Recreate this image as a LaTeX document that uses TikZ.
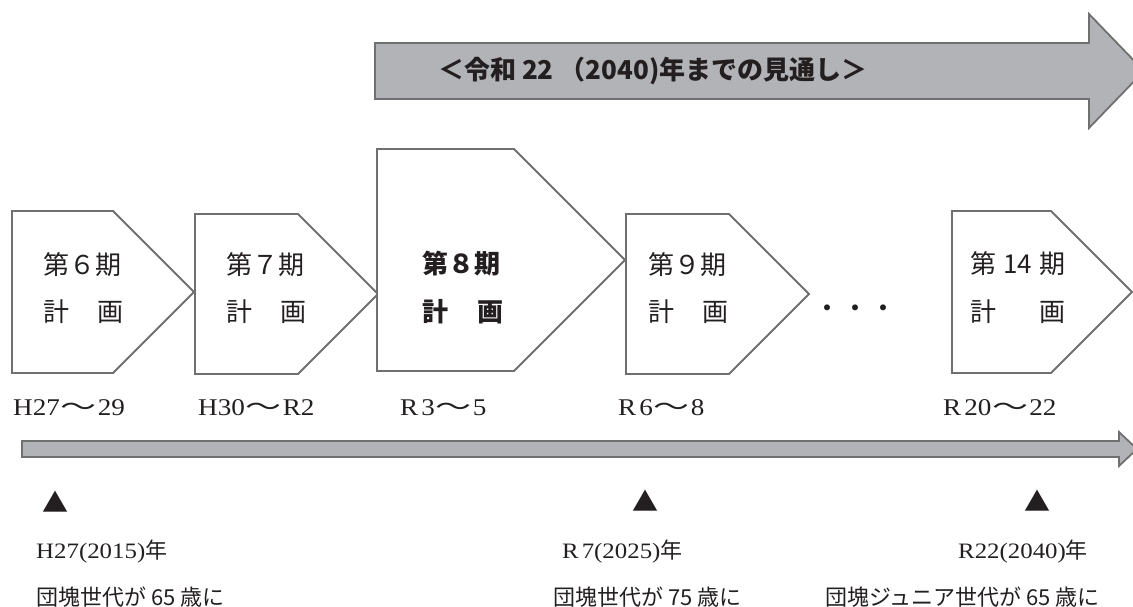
\documentclass[tikz,border=0pt]{standalone}
\usepackage{fontspec}
\usepackage{graphicx}
\setmainfont{Liberation Serif}
\newfontfamily\datefont[FakeStretch=1.13]{Liberation Serif}
\newfontfamily\cjk{Noto Sans CJK JP}
\definecolor{linegray}{RGB}{112,112,112}
\definecolor{arrowgray}{RGB}{178,179,183}
\definecolor{ink}{RGB}{35,31,32}
\newcommand{\plangon}[4]{% left, top, bottom, tip x
  \draw[planbox] (#1,#2) -- ({#4-(#3-#2)/2},#2) -- (#4,{(#2+#3)/2}) -- ({#4-(#3-#2)/2},#3) -- (#1,#3) -- cycle;}
\newcommand{\wv}{{\cjk\hspace{1pt}\scalebox{1.5}[1]{～}\hspace{1pt}}}
\begin{document}
\begin{tikzpicture}[x=1pt,y=-1pt,
  planbox/.style={draw=linegray, line width=1.8pt, fill=white, line join=miter},
  bigarrow/.style={draw=linegray, line width=1.8pt, fill=arrowgray, line join=miter},
  plantext/.style={inner sep=0pt, anchor=west, text=ink, font=\cjk\fontsize{26pt}{30pt}\selectfont},
  datetext/.style={inner sep=0pt, anchor=west, text=ink, font=\datefont\fontsize{24pt}{28pt}\selectfont},
  yeartext/.style={inner sep=0pt, anchor=west, text=ink, font=\datefont\fontsize{22pt}{25pt}\selectfont},
  notetext/.style={inner sep=0pt, anchor=west, text=ink, font=\cjk\fontsize{22pt}{26pt}\selectfont},
  marktext/.style={inner sep=0pt, anchor=center, text=ink, font=\cjk\fontsize{26pt}{30pt}\selectfont},
  titletext/.style={inner sep=0pt, anchor=west, text=ink, font=\cjk\bfseries\fontsize{26pt}{30pt}\selectfont}]
\useasboundingbox (0,0) rectangle (1133,607);
% top arrow
\draw[bigarrow] (375,43) -- (1089,43) -- (1089,14) -- (1144,71) -- (1089,128) -- (1089,99) -- (375,99) -- cycle;
\node[titletext] (title) at (438,71) {＜令和 22 （2040)年までの見通し＞};
% plan pentagons
\plangon{12}{211}{373}{194}
\plangon{195}{214}{374}{378}
\plangon{377}{149}{371}{625}
\plangon{626}{214}{374}{809}
\plangon{952}{211}{373}{1132}
% plan texts
\node[plantext] (p6a) at (43,265) {第６期};
\node[plantext] (p6b) at (43,312) {\hbox to 80pt{計\hfill 画}};
\node[plantext] (p7a) at (226,265) {第７期};
\node[plantext] (p7b) at (226,312) {\hbox to 80pt{計\hfill 画}};
\node[plantext, font=\cjk\bfseries\fontsize{26pt}{30pt}\selectfont] (p8a) at (422,264) {第８期};
\node[plantext, font=\cjk\bfseries\fontsize{26pt}{30pt}\selectfont] (p8b) at (422,312) {\hbox to 81pt{計\hfill 画}};
\node[plantext] (p9a) at (648,265) {第９期};
\node[plantext] (p9b) at (648,312) {\hbox to 80pt{計\hfill 画}};
\node[plantext] (p14a) at (970,264) {\hbox to 95pt{第\hfill 14\hfill 期}};
\node[plantext] (p14b) at (970,312) {\hbox to 95pt{計\hfill 画}};
\node[inner sep=0pt, text=ink, font=\cjk\fontsize{28pt}{30pt}\selectfont] (dots) at (855,312) {・・・};
% period labels
\node[datetext] (d6) at (13,408) {H27\wv 29};
\node[datetext] (d7) at (198,408) {H30\wv R2};
\node[datetext] (d8) at (400,408) {R\hspace{3pt}3\wv 5};
\node[datetext] (d9) at (618,408) {R\hspace{3pt}6\wv 8};
\node[datetext] (d14) at (943,408) {R\hspace{3pt}20\wv 22};
% bottom timeline arrow
\draw[bigarrow] (22,441) -- (1119,441) -- (1119,432) -- (1137,449) -- (1119,466) -- (1119,457) -- (22,457) -- cycle;
% markers
\node[marktext] (m1) at (55,502) {▲};
\node[marktext] (m2) at (645,501) {▲};
\node[marktext] (m3) at (1037,501) {▲};
% year labels
\node[yeartext] (y1) at (36,552) {H27(2015){\cjk 年}};
\node[yeartext] (y2) at (562,552) {R\hspace{3pt}7(2025){\cjk 年}};
\node[yeartext] (y3) at (958,552) {R22(2040){\cjk 年}};
% notes
\node[notetext] (n1) at (36,597) {団塊世代が 65 歳に};
\node[notetext] (n2) at (553,597) {団塊世代が 75 歳に};
\node[notetext, anchor=east] (n3) at (1100,597) {団塊ジュニア世代が 65 歳に};
\end{tikzpicture}
\end{document}
